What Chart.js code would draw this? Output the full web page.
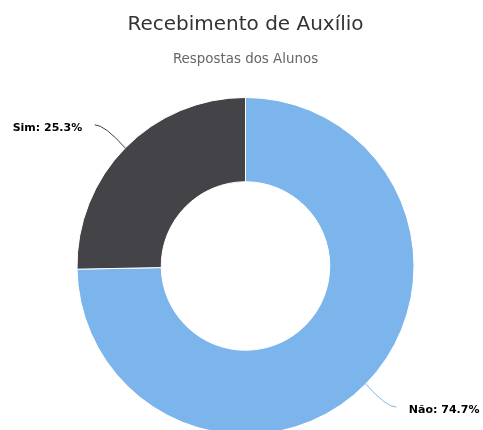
<!DOCTYPE html>
<html>
<head>
<meta charset="utf-8">
<script src="https://cdn.jsdelivr.net/npm/chart.js@4"></script>
<style>
  html, body { margin: 0; padding: 0; overflow: hidden; background: #fff; }
  canvas { display: block; }
</style>
</head>
<body>
<canvas id="chartCanvas" width="483" height="440"></canvas>
<script>
const categories = ['Não', 'Sim'];
const percentages = [74.7, 25.3];
const sliceColors = ['#7cb5ec', '#434348'];

// draws "Name: xx.x%" labels with soft connectors, like the reference
const pieLabels = {
  id: 'pieLabels',
  afterDatasetsDraw(chart) {
    const ctx = chart.ctx;
    const meta = chart.getDatasetMeta(0);
    ctx.save();
    ctx.font = 'bold 11px "DejaVu Sans"';
    ctx.textBaseline = 'middle';
    meta.data.forEach((arc, i) => {
      const mid = (arc.startAngle + arc.endAngle) / 2;
      const r = arc.outerRadius;
      const polar = rr => ({ x: arc.x + rr * Math.cos(mid), y: arc.y + rr * Math.sin(mid) });
      const sign = Math.cos(mid) >= 0 ? 1 : -1;
      const p0 = polar(r);
      const a = polar(r + 33);
      const end = { x: a.x + sign * 7, y: a.y };
      ctx.strokeStyle = sliceColors[i];
      ctx.lineWidth = 1;
      ctx.beginPath();
      ctx.moveTo(p0.x, p0.y);
      ctx.quadraticCurveTo(end.x - sign * 10, end.y, end.x, end.y);
      ctx.stroke();
      ctx.fillStyle = '#000';
      ctx.textAlign = sign > 0 ? 'left' : 'right';
      ctx.fillText(categories[i] + ': ' + percentages[i].toFixed(1) + '%', end.x + sign * 12.5, end.y + 3);
    });
    ctx.restore();
  }
};

const ctx = document.getElementById('chartCanvas').getContext('2d');
const myChart = new Chart(ctx, {
  type: 'doughnut',
  data: {
    labels: categories,
    datasets: [{
      data: percentages,
      backgroundColor: sliceColors,
      borderColor: '#ffffff',
      borderWidth: 1,
      hoverOffset: 0
    }]
  },
  options: {
    responsive: false,
    animation: false,
    cutout: '50%',
    layout: { padding: { top: 13.1, bottom: 5, left: 8, right: 0 } },
    plugins: {
      legend: { display: false },
      tooltip: { enabled: false },
      title: {
        display: true,
        text: 'Recebimento de Auxílio',
        color: '#333333',
        font: { family: 'DejaVu Sans', size: 20, weight: 'normal', lineHeight: 1.2 },
        padding: { top: 0, bottom: 14.3 }
      },
      subtitle: {
        display: true,
        text: 'Respostas dos Alunos',
        color: '#666666',
        font: { family: 'DejaVu Sans', size: 13.4, weight: 'normal', lineHeight: 1.2 },
        padding: { top: 0, bottom: 29.5 }
      }
    }
  },
  plugins: [pieLabels]
});
</script>
</body>
</html>
